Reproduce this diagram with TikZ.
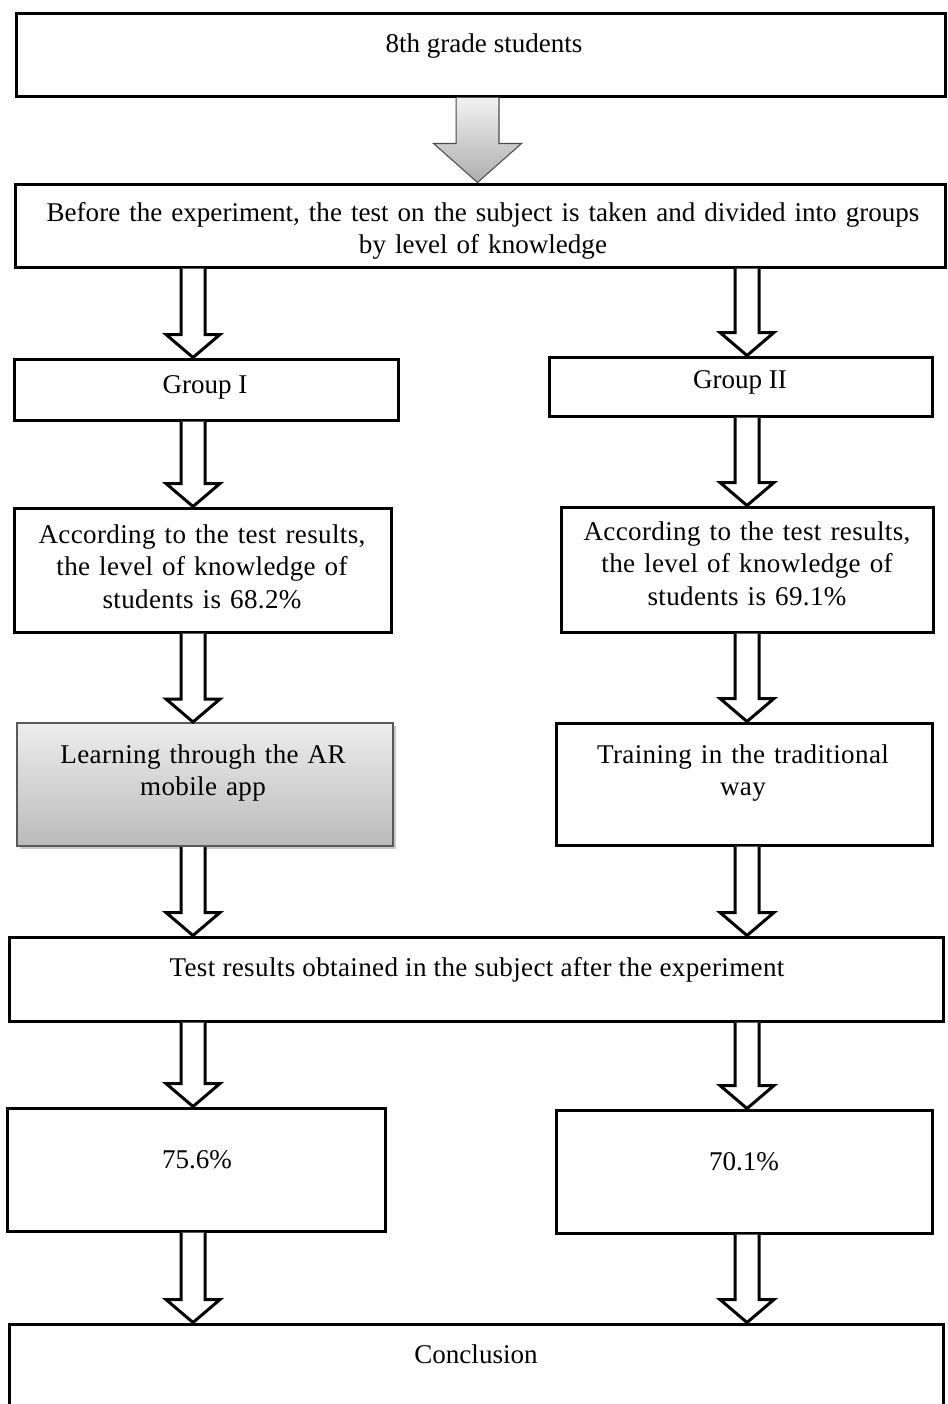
\documentclass[tikz,border=0pt]{standalone}
\usepackage{fontspec}
\setmainfont{Liberation Serif}
\newfontfamily\spacedfont{Liberation Serif}[LetterSpace=1.3]
\usetikzlibrary{calc,fit,shadows}
\tikzset{
  box/.style={draw=black, line width=2.25pt, fill=white, inner sep=0pt, rectangle},
  graybox/.style={draw=black!65, line width=1.5pt, inner sep=0pt, rectangle,
    top color=black!7, bottom color=black!27,
    drop shadow={shadow xshift=2pt, shadow yshift=-2.5pt, opacity=0.35, fill=black!60}},
  txt/.style={font=\fontsize{20.3pt}{24.4pt}\selectfont, inner sep=0pt, anchor=base},
  stxt/.style={font=\spacedfont\fontsize{20.3pt}{24.4pt}\selectfont, inner sep=0pt, anchor=base},
  harrow/.style={draw=black, line width=2.25pt, fill=white, line join=miter},
  garrow/.style={draw=black!70, line width=0.8pt, top color=black!5, bottom color=black!32, line join=miter},
}
% style, from, to, shaft half width, head half width, head length
\newcommand\blockarrow[6]{%
  \path[#1] let \p1=#2, \p2=#3 in
    (\x1-#4,\y1) -- (\x1-#4,\y2+#6) -- (\x1-#5,\y2+#6) -- (\x2,\y2)
    -- (\x1+#5,\y2+#6) -- (\x1+#4,\y2+#6) -- (\x1+#4,\y1);}
\newcommand\hollowarrow[2]{\blockarrow{harrow}{#1}{#2}{9pt}{20.25pt}{17.25pt}}
\begin{document}
\begin{tikzpicture}[x=0.75pt,y=-0.75pt]
\path[use as bounding box, clip] (0,0) rectangle (947,1404);
\fill[white] (0,0) rectangle (947,1404);
\coordinate (colL) at (193,0);
\coordinate (colR) at (747,0);
\coordinate (colM) at (477.5,0);
% boxes
\node[box, fit={(16,13) (945.5,96)}] (B1) {};
\node[box, fit={(15,184) (945.5,267)}] (B2) {};
\node[box, fit={(14,359) (398,420)}] (G1) {};
\node[box, fit={(549,357) (932,416)}] (G2) {};
\node[box, fit={(14,508) (391,632)}] (L3) {};
\node[box, fit={(561,507) (933,632)}] (R3) {};
\node[graybox, fit={(17,723) (393,846)}] (L4) {};
\node[box, fit={(556,723) (932,845)}] (R4) {};
\node[box, fit={(9,937) (943,1021)}] (T) {};
\node[box, fit={(7,1108) (385,1231)}] (L5) {};
\node[box, fit={(556,1110) (932,1233)}] (R5) {};
\node[box, fit={(9,1324) (943,1420)}] (C) {};
% texts
\node[txt] (t1) at (484,52) {8th grade students};
\node[txt, text width=700pt, align=center] (t2) at (483,221) {Before the experiment, the test on the subject is taken and divided into groups\\by level of knowledge};
\node[txt] (t3) at (205,393) {Group I};
\node[txt] (t4) at (740,388) {Group II};
\node[stxt, text width=270pt, align=center] (t5) at (202,543) {According to the test results,\\the level of knowledge of\\students is 68.2\%};
\node[stxt, text width=270pt, align=center] (t6) at (747,540) {According to the test results,\\the level of knowledge of\\students is 69.1\%};
\node[stxt, text width=270pt, align=center] (t7) at (203,763) {Learning through the AR\\mobile app};
\node[stxt, text width=270pt, align=center] (t8) at (743,763) {Training in the traditional\\way};
\node[stxt] (t9) at (477,976) {Test results obtained in the subject after the experiment};
\node[txt] (t10) at (197,1168) {75.6\%};
\node[txt] (t11) at (744,1170) {70.1\%};
\node[txt] (t12) at (476,1363) {Conclusion};
% arrows
\blockarrow{garrow}{(B1.south -| colM)}{(B2.north -| colM)}{16.1pt}{33pt}{29.25pt}
\hollowarrow{(B2.south -| colL)}{(G1.north -| colL)}
\hollowarrow{(B2.south -| colR)}{(G2.north -| colR)}
\hollowarrow{(G1.south -| colL)}{(L3.north -| colL)}
\hollowarrow{(G2.south -| colR)}{(R3.north -| colR)}
\hollowarrow{(L3.south -| colL)}{(L4.north -| colL)}
\hollowarrow{(R3.south -| colR)}{(R4.north -| colR)}
\hollowarrow{(L4.south -| colL)}{(T.north -| colL)}
\hollowarrow{(R4.south -| colR)}{(T.north -| colR)}
\hollowarrow{(T.south -| colL)}{(L5.north -| colL)}
\hollowarrow{(T.south -| colR)}{(R5.north -| colR)}
\hollowarrow{(L5.south -| colL)}{(C.north -| colL)}
\hollowarrow{(R5.south -| colR)}{(C.north -| colR)}
\end{tikzpicture}
\end{document}
